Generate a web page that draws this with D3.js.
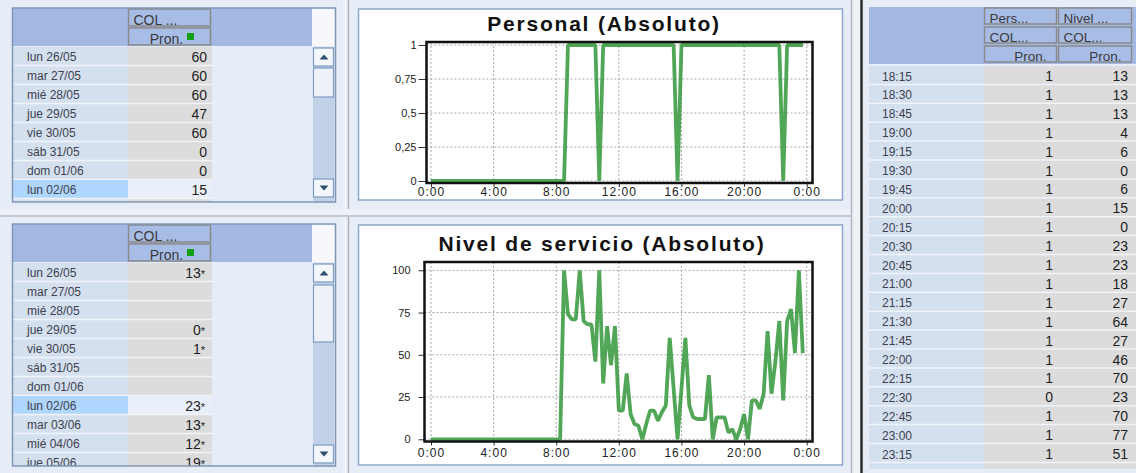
<!DOCTYPE html>
<html>
<head>
<meta charset="utf-8">
<script src="https://cdn.jsdelivr.net/npm/d3@7"></script>
<style>
body { margin: 0; background: #e7edf6; }
svg { display: block; font-family: "Liberation Sans", Arial, sans-serif; }
</style>
</head>
<body>
<div id="holder"></div>
<script>
// ---- data ----
var diasSemana = ["lun 26/05", "mar 27/05", "mié 28/05", "jue 29/05", "vie 30/05", "sáb 31/05", "dom 01/06", "lun 02/06"];
var pronPersonalDia = [60, 60, 60, 47, 60, 0, 0, 15];

var diasNivel = ["lun 26/05", "mar 27/05", "mié 28/05", "jue 29/05", "vie 30/05", "sáb 31/05", "dom 01/06",
                 "lun 02/06", "mar 03/06", "mié 04/06", "jue 05/06"];
var pronNivelDia = [13, null, null, 0, 1, null, null, 23, 13, 12, 19];

var horasTabla = ["18:15", "18:30", "18:45", "19:00", "19:15", "19:30", "19:45", "20:00", "20:15", "20:30", "20:45",
                  "21:00", "21:15", "21:30", "21:45", "22:00", "22:15", "22:30", "22:45", "23:00", "23:15"];
var persTabla  = [1, 1, 1, 1, 1, 1, 1, 1, 1, 1, 1, 1, 1, 1, 1, 1, 1, 0, 1, 1, 1];
var nivelTabla = [13, 13, 13, 4, 6, 0, 6, 15, 0, 23, 23, 18, 27, 64, 27, 46, 70, 23, 70, 77, 51];

// 15 minute slots, 0:00 .. 23:45 (one line per hour)
var personal = [
  0, 0, 0, 0,   0, 0, 0, 0,   0, 0, 0, 0,   0, 0, 0, 0,
  0, 0, 0, 0,   0, 0, 0, 0,   0, 0, 0, 0,   0, 0, 0, 0,
  0, 0, 0, 1,   1, 1, 1, 1,   1, 1, 1, 0,   1, 1, 1, 1,
  1, 1, 1, 1,   1, 1, 1, 1,   1, 1, 1, 1,   1, 1, 1, 0,
  1, 1, 1, 1,   1, 1, 1, 1,   1, 1, 1, 1,   1, 1, 1, 1,
  1, 1, 1, 1,   1, 1, 1, 1,   1, 1, 0, 1,   1, 1, 1, 1
];
var nivel = [
  0, 0, 0, 0,   0, 0, 0, 0,   0, 0, 0, 0,   0, 0, 0, 0,
  0, 0, 0, 0,   0, 0, 0, 0,   0, 0, 0, 0,   0, 0, 0, 0,
  0, 0, 100, 74,   71, 71, 100, 70,   68, 68, 46, 100,   33, 67, 44, 67,
  17, 17, 39, 15,   9, 8, 0, 9,   17, 17, 11, 16,   20, 60, 30, 0,
  30, 60, 20, 13,   12, 12, 12, 38,   0, 13, 13, 13,   4, 6, 0, 6,
  15, 0, 23, 23,   18, 27, 64, 27,   46, 70, 23, 70,   77, 51, 100, 51
];
var horasEje = [0, 4, 8, 12, 16, 20, 24];

var width = 1136, height = 473, rowH = 19;

var svg = d3.select("#holder").append("svg")
    .attr("width", width)
    .attr("height", height);

svg.append("rect").attr("width", width).attr("height", height).attr("fill", "#e7edf6");

// separators between panels
svg.append("rect").attr("x", 343).attr("y", 0).attr("width", 7).attr("height", height).attr("fill", "#eef1f5");
svg.append("line").attr("x1", 348.5).attr("x2", 348.5).attr("y1", 0).attr("y2", height)
    .attr("stroke", "#a9b1bc").attr("stroke-width", 1.5);
svg.append("rect").attr("x", 0).attr("y", 209).attr("width", 852).attr("height", 8).attr("fill", "#eef1f5");
svg.append("line").attr("x1", 0).attr("x2", 852).attr("y1", 216).attr("y2", 216)
    .attr("stroke", "#b3bac3").attr("stroke-width", 1.5);
svg.append("rect").attr("x", 852).attr("y", 0).attr("width", 9).attr("height", height).attr("fill", "#eef1f5");
svg.append("line").attr("x1", 851.5).attr("x2", 851.5).attr("y1", 0).attr("y2", height)
    .attr("stroke", "#b0b8c4").attr("stroke-width", 1.5);
svg.append("line").attr("x1", 861.5).attr("x2", 861.5).attr("y1", 0).attr("y2", height)
    .attr("stroke", "#2b2b2b").attr("stroke-width", 2.5);

function headerCell(g, x, y, w, h, label, anchor, size) {
    g.append("rect").attr("x", x).attr("y", y).attr("width", w).attr("height", h)
        .attr("fill", "#a8bde6").attr("stroke", "#8a8a8a").attr("stroke-width", 1.5);
    var t = g.append("text").attr("y", y + h - 1.5)
        .attr("font-size", size || 14).attr("fill", "#3a3a3a").text(label);
    if (anchor === "start") t.attr("x", x + 5);
    else if (anchor === "end") t.attr("x", x + w - 10).attr("text-anchor", "end");
    else t.attr("x", x + w / 2 - 3).attr("text-anchor", "middle");
    return t;
}

function scrollButton(g, y, up) {
    g.append("rect").attr("x", 313.5).attr("y", y).attr("width", 20).attr("height", 18)
        .attr("fill", "#f3f6fa").attr("stroke", "#7d9cc3").attr("stroke-width", 1.2);
    var cx = 324, cy = y + 9;
    var p = up ? [[cx - 4.5, cy + 2.5], [cx + 4.5, cy + 2.5], [cx, cy - 2.5]]
               : [[cx - 4.5, cy - 2.5], [cx + 4.5, cy - 2.5], [cx, cy + 2.5]];
    g.append("path").attr("d", d3.line()(p) + "Z").attr("fill", "#2f4f70");
}

// ---- day tables on the left ----
function drawDayTable(cfg) {
    var g = svg.append("g");
    var clipId = "clip-" + cfg.name;
    g.append("clipPath").attr("id", clipId).append("rect")
        .attr("x", 13).attr("y", cfg.top).attr("width", 322).attr("height", cfg.bottom - cfg.top);
    var body = g.append("g").attr("clip-path", "url(#" + clipId + ")");
    var rowsTop = cfg.top + cfg.headH + 1;

    body.append("rect").attr("x", 13).attr("y", cfg.top).attr("width", 300).attr("height", cfg.bottom - cfg.top)
        .attr("fill", "#e6edf8");
    body.append("rect").attr("x", 13).attr("y", rowsTop).attr("width", 115).attr("height", cfg.bottom - rowsTop)
        .attr("fill", "#d4e0ee");
    body.append("rect").attr("x", 128).attr("y", rowsTop).attr("width", 84).attr("height", cfg.bottom - rowsTop)
        .attr("fill", "#dcdcdc");

    // header band
    body.append("rect").attr("x", 13).attr("y", cfg.top).attr("width", 300).attr("height", cfg.headH)
        .attr("fill", "#a3b9e3");
    body.append("rect").attr("x", 312).attr("y", cfg.top).attr("width", 23).attr("height", cfg.headH)
        .attr("fill", "#f6f8fc");
    var ch = (cfg.headH - 4) / 2;
    headerCell(body, 128.5, cfg.top + 1, 82, ch, "COL ...", "start");
    headerCell(body, 128.5, cfg.top + ch + 3, 82, ch, "Pron.", "middle");
    body.append("rect").attr("x", 187).attr("y", cfg.top + ch + 8).attr("width", 7).attr("height", 7)
        .attr("fill", "#13a013");

    var y = d3.scaleBand().domain(d3.range(cfg.days.length))
        .range([rowsTop, rowsTop + cfg.days.length * rowH]);

    var rows = body.selectAll(".row").data(cfg.days).enter().append("g")
        .attr("class", "row")
        .attr("transform", function(d, i) { return "translate(0," + y(i) + ")"; });
    rows.filter(function(d, i) { return i === cfg.selected; }).each(function() {
        d3.select(this).append("rect").attr("x", 13).attr("width", 115).attr("height", rowH).attr("fill", "#afd6fc");
        d3.select(this).append("rect").attr("x", 128).attr("width", 84).attr("height", rowH).attr("fill", "#e9eff8");
    });
    rows.append("line").attr("x1", 13).attr("x2", 212).attr("y1", rowH - 0.5).attr("y2", rowH - 0.5)
        .attr("stroke", "#f1f4f9").attr("stroke-width", 1.5);
    rows.append("text").attr("x", 27).attr("y", 14).attr("font-size", 12).attr("fill", "#3e4150")
        .text(function(d) { return d; });
    var vt = rows.append("text").attr("x", cfg.stars ? 205 : 207).attr("y", 14.5)
        .attr("text-anchor", "end").attr("font-size", 14).attr("fill", "#1e1e1e");
    vt.each(function(d, i) {
        var v = cfg.values[i];
        if (v === null) return;
        var t = d3.select(this);
        t.append("tspan").text(v);
        if (cfg.stars) t.append("tspan").attr("font-size", 11).attr("dy", 0).text("*");
    });

    // scroll bar
    body.append("rect").attr("x", 313).attr("y", rowsTop).attr("width", 21).attr("height", cfg.bottom - rowsTop)
        .attr("fill", "#c1d1e7");
    scrollButton(body, cfg.scroll.up, true);
    body.append("rect").attr("x", 313.5).attr("y", cfg.scroll.thumb).attr("width", 20).attr("height", cfg.scroll.thumbH)
        .attr("fill", "#eef2f8").attr("stroke", "#7d9cc3").attr("stroke-width", 1.2);
    scrollButton(body, cfg.scroll.down, false);

    g.append("rect").attr("x", 12.5).attr("y", cfg.top).attr("width", 323).attr("height", cfg.bottom - cfg.top)
        .attr("fill", "none").attr("stroke", "#7f97b5").attr("stroke-width", 1.5);
}

drawDayTable({name: "pers", top: 8, bottom: 202, headH: 38, days: diasSemana, values: pronPersonalDia,
              stars: false, selected: 7, scroll: {up: 48, thumb: 68, thumbH: 29, down: 179}});
drawDayTable({name: "nivel", top: 224, bottom: 466, headH: 38, days: diasNivel, values: pronNivelDia,
              stars: true, selected: 7, scroll: {up: 264, thumb: 285, thumbH: 57, down: 445}});

// ---- line charts ----
function drawChart(cfg) {
    var g = svg.append("g");
    g.append("rect").attr("x", 358.5).attr("y", cfg.boxY).attr("width", 484).attr("height", cfg.boxH)
        .attr("fill", "#ffffff").attr("stroke", "#8da6c9").attr("stroke-width", 1.5);

    var x = d3.scaleLinear().domain([0, 24]).range([431, 806.7]);
    var y = d3.scaleLinear().domain([0, cfg.max]).range(cfg.yRange);
    var f = cfg.frame;

    // grid
    g.selectAll(".vgrid").data(horasEje).enter().append("line")
        .attr("x1", function(d) { return x(d); }).attr("x2", function(d) { return x(d); })
        .attr("y1", f.top).attr("y2", f.bottom)
        .attr("stroke", "#a8a8a8").attr("stroke-dasharray", "2,2");
    g.selectAll(".hgrid").data(cfg.yTicks).enter().append("line")
        .attr("x1", f.left).attr("x2", f.right)
        .attr("y1", function(d) { return y(d); }).attr("y2", function(d) { return y(d); })
        .attr("stroke", "#a8a8a8").attr("stroke-dasharray", "2,2");

    // series
    var line = d3.line()
        .x(function(d, i) { return x(i * 0.25); })
        .y(function(d) { return y(d); });
    g.append("path").datum(cfg.values)
        .attr("d", line)
        .attr("fill", "none")
        .attr("stroke", "#33973a")
        .attr("stroke-opacity", 0.85)
        .attr("stroke-width", 3.8)
        .attr("stroke-linejoin", "bevel");

    // axes
    var xAxis = d3.axisBottom(x).tickValues(horasEje)
        .tickFormat(function(d) { return (d % 24) + ":00"; })
        .tickSize(4).tickPadding(cfg.xPad).tickSizeOuter(0);
    var gx = g.append("g").attr("transform", "translate(0," + f.bottom + ")").call(xAxis);
    gx.select(".domain").remove();
    gx.selectAll("text").attr("font-size", 12).attr("letter-spacing", 1)
        .attr("font-family", "Liberation Sans, Arial, sans-serif").attr("fill", "#222");

    var yAxis = d3.axisLeft(y).tickValues(cfg.yTicks).tickFormat(cfg.yFormat)
        .tickSize(cfg.ySize).tickPadding(cfg.yPad).tickSizeOuter(0);
    var gy = g.append("g").attr("transform", "translate(" + f.left + ",0)").call(yAxis);
    gy.select(".domain").remove();
    gy.selectAll("text").attr("font-size", 11)
        .attr("font-family", "Liberation Sans, Arial, sans-serif").attr("fill", "#222");
    g.selectAll(".tick line").attr("stroke", "#333");

    // frame
    g.append("rect").attr("x", f.left).attr("y", f.top)
        .attr("width", f.right - f.left).attr("height", f.bottom - f.top)
        .attr("fill", "none").attr("stroke", "#111").attr("stroke-width", 2.5);

    // title
    g.append("text").attr("x", cfg.titleX).attr("y", cfg.titleY)
        .attr("text-anchor", "middle").attr("font-size", 21).attr("font-weight", "bold")
        .attr("letter-spacing", 1.8).attr("fill", "#111")
        .text(cfg.title);
}

drawChart({
    title: "Personal (Absoluto)", titleX: 604, titleY: 30.5,
    boxY: 9, boxH: 191,
    values: personal, max: 1, yRange: [181, 45],
    yTicks: [0, 0.25, 0.5, 0.75, 1],
    yFormat: function(d) { return String(d).replace(".", ","); },
    ySize: 8, yPad: 2, xPad: 0.5,
    frame: {left: 426.5, right: 812.5, top: 42, bottom: 183}
});

drawChart({
    title: "Nivel de servicio (Absoluto)", titleX: 602, titleY: 250.5,
    boxY: 225, boxH: 240,
    values: nivel, max: 100, yRange: [439.3, 270.3],
    yTicks: [0, 25, 50, 75, 100],
    yFormat: function(d) { return d; },
    ySize: 6, yPad: 8, xPad: 3,
    frame: {left: 424.5, right: 812.5, top: 262, bottom: 441.5}
});

// ---- interval table on the right ----
var rt = svg.append("g");
var rTop = 7, rHead = 57, rRows = rTop + rHead + 2, rH = 18.9;
rt.append("rect").attr("x", 869).attr("y", rTop).attr("width", 267).attr("height", rHead).attr("fill", "#a3b9e3");
rt.append("rect").attr("x", 869).attr("y", rRows).attr("width", 115).attr("height", height - rRows - 4).attr("fill", "#d4e0ee");
rt.append("rect").attr("x", 984).attr("y", rRows).attr("width", 152).attr("height", height - rRows - 4).attr("fill", "#dcdcdc");

var headCols = [{x: 984.5, w: 72}, {x: 1058.5, w: 73}];
var headRows = [["Pers...", "Nivel ..."], ["COL...", "COL..."], ["Pron.", "Pron."]];
headRows.forEach(function(r, ri) {
    headCols.forEach(function(c, ci) {
        headerCell(rt, c.x, rTop + 1 + ri * 19, c.w, 16, r[ci], ri === 2 ? "end" : "start", 13.5);
    });
});

var yR = d3.scaleBand().domain(d3.range(horasTabla.length))
    .range([rRows, rRows + horasTabla.length * rH]);
var rrows = rt.selectAll(".rrow").data(horasTabla).enter().append("g")
    .attr("class", "rrow")
    .attr("transform", function(d, i) { return "translate(0," + yR(i) + ")"; });
rrows.append("line").attr("x1", 869).attr("x2", 1136).attr("y1", rH - 0.5).attr("y2", rH - 0.5)
    .attr("stroke", "#f1f4f9").attr("stroke-width", 1.5);
rrows.append("text").attr("x", 882).attr("y", 14.5).attr("font-size", 12).attr("fill", "#3e4150")
    .text(function(d) { return d; });
rrows.append("text").attr("x", 1053).attr("y", 15).attr("text-anchor", "end")
    .attr("font-size", 14).attr("fill", "#1e1e1e")
    .text(function(d, i) { return persTabla[i]; });
rrows.append("text").attr("x", 1128).attr("y", 15).attr("text-anchor", "end")
    .attr("font-size", 14).attr("fill", "#1e1e1e")
    .text(function(d, i) { return nivelTabla[i]; });
</script>
</body>
</html>
